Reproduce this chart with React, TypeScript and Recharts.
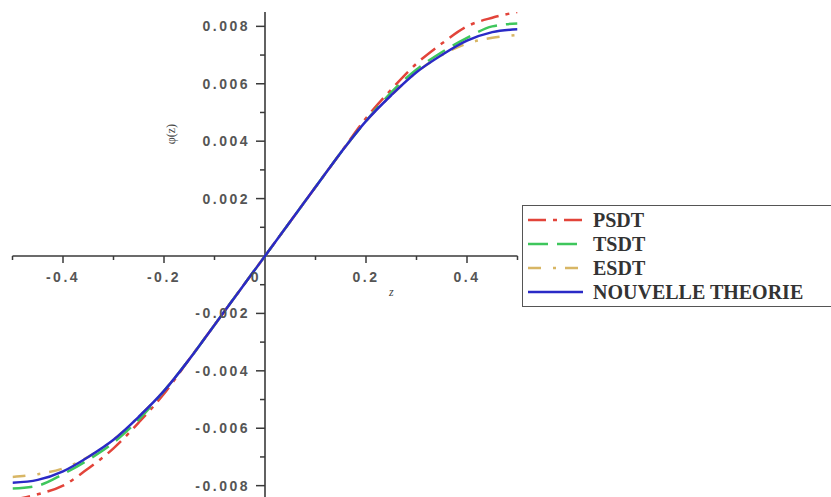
import React from 'react';
import { LineChart, Line, XAxis, YAxis, ReferenceLine, ReferenceDot, Legend } from 'recharts';

const zValues = [-0.5, -0.45, -0.4, -0.35, -0.3, -0.25, -0.2, -0.15, -0.1, -0.05, 0, 0.05, 0.1, 0.15, 0.2, 0.25, 0.3, 0.35, 0.4, 0.45, 0.5];
const psdt = [-0.0085, -0.0083, -0.008, -0.0074, -0.0067, -0.0058, -0.0048, -0.0036, -0.0024, -0.0012, 0, 0.0012, 0.0024, 0.0036, 0.0048, 0.0058, 0.0067, 0.0074, 0.008, 0.0083, 0.0085];
const tsdt = [-0.0081, -0.008, -0.0076, -0.0071, -0.0065, -0.0057, -0.0047, -0.0036, -0.0024, -0.0012, 0, 0.0012, 0.0024, 0.0036, 0.0047, 0.0057, 0.0065, 0.0071, 0.0076, 0.008, 0.0081];
const esdt = [-0.0077, -0.0076, -0.0074, -0.007, -0.0064, -0.0056, -0.0047, -0.0036, -0.0024, -0.0012, 0, 0.0012, 0.0024, 0.0036, 0.0047, 0.0056, 0.0064, 0.007, 0.0074, 0.0076, 0.0077];
const nouvelle = [-0.0079, -0.0078, -0.0075, -0.007, -0.0064, -0.0056, -0.0047, -0.0036, -0.0024, -0.0012, 0, 0.0012, 0.0024, 0.0036, 0.0047, 0.0056, 0.0064, 0.007, 0.0075, 0.0078, 0.0079];

const xMajorTicks = [-0.4, -0.2, 0.2, 0.4];
const xTickLabels = ['-0.4', '-0.2', '0.2', '0.4'];
const xMinorTicks = [-0.5, -0.3, -0.1, 0.1, 0.3, 0.5];
const yMajorTicks = [0.008, 0.006, 0.004, 0.002, -0.002, -0.004, -0.006, -0.008];
const yTickLabels = ['0.008', '0.006', '0.004', '0.002', '-0.002', '-0.004', '-0.006', '-0.008'];
const yMinorTicks = [0.007, 0.005, 0.003, 0.001, -0.001, -0.003, -0.005, -0.007];

const seriesKeys = ['psdt', 'tsdt', 'esdt', 'nouvelle'];
const seriesNames = ['PSDT', 'TSDT', 'ESDT', 'NOUVELLE THEORIE'];
const seriesColors = ['#e2443a', '#3ec65c', '#d8b665', '#2a2ac6'];
const seriesDashes = ['18 7 4 7', '20 9', '13 12 3 9', undefined];

const data = zValues.map((z, i) => ({ z, psdt: psdt[i], tsdt: tsdt[i], esdt: esdt[i], nouvelle: nouvelle[i] }));

const AXIS = '#3a3a3a';
const tickFont: React.CSSProperties = {
  fontFamily: '"Liberation Sans", Arial, sans-serif',
  fontSize: 14,
  fontWeight: 'bold',
  letterSpacing: 2.5,
  fill: '#555',
};

const LegendBox = () => (
  <div
    style={{
      border: '1.5px solid #555',
      background: '#fff',
      width: 400,
      padding: '2px 0 2px 4px',
      boxSizing: 'border-box',
    }}
  >
    {seriesNames.map((n, i) => (
      <div key={n} style={{ display: 'flex', alignItems: 'center', height: 24 }}>
        <svg width={60} height={24}>
          <line x1={1} y1={12} x2={56} y2={12} stroke={seriesColors[i]} strokeWidth={2.5} strokeDasharray={seriesDashes[i]} />
        </svg>
        <span
          style={{
            fontFamily: '"Liberation Serif", "Times New Roman", serif',
            fontWeight: 'bold',
            fontSize: 20,
            color: '#333',
            marginLeft: 6,
            whiteSpace: 'nowrap',
            lineHeight: '24px',
          }}
        >
          {n}
        </span>
      </div>
    ))}
  </div>
);

export default function App() {
  return (
    <div style={{ position: 'absolute', left: 0, top: 0, width: 831, height: 497, overflow: 'hidden', background: '#fff' }}>
      <LineChart width={831} height={505} data={data} margin={{ top: 12, right: 313.5, bottom: 5, left: 12.5 }}>
        <XAxis type="number" dataKey="z" domain={[-0.5, 0.5]} hide allowDataOverflow />
        <YAxis type="number" domain={[-0.0085, 0.0085]} hide allowDataOverflow />
        <ReferenceLine y={0} stroke={AXIS} strokeWidth={1.6} />
        <ReferenceLine x={0} stroke={AXIS} strokeWidth={1.6} />
        {xMajorTicks.map((t, i) => (
          <ReferenceDot
            key={'xm' + t}
            x={t}
            y={0}
            r={0}
            shape={(p: any) => (
              <g>
                <line x1={p.cx} y1={p.cy} x2={p.cx} y2={p.cy + 7} stroke={AXIS} strokeWidth={1.5} />
                <text x={p.cx} y={p.cy + 26} textAnchor="middle" style={tickFont}>
                  {xTickLabels[i]}
                </text>
              </g>
            )}
          />
        ))}
        {xMinorTicks.map((t) => (
          <ReferenceDot
            key={'xn' + t}
            x={t}
            y={0}
            r={0}
            shape={(p: any) => <line x1={p.cx} y1={p.cy} x2={p.cx} y2={p.cy + 4} stroke={AXIS} strokeWidth={1.5} />}
          />
        ))}
        {yMajorTicks.map((t, i) => (
          <ReferenceDot
            key={'ym' + t}
            x={0}
            y={t}
            r={0}
            shape={(p: any) => (
              <g>
                <line x1={p.cx - 9} y1={p.cy} x2={p.cx} y2={p.cy} stroke={AXIS} strokeWidth={1.5} />
                <text x={p.cx - 15} y={p.cy + 5} textAnchor="end" style={tickFont}>
                  {yTickLabels[i]}
                </text>
              </g>
            )}
          />
        ))}
        {yMinorTicks.map((t) => (
          <ReferenceDot
            key={'yn' + t}
            x={0}
            y={t}
            r={0}
            shape={(p: any) => <line x1={p.cx - 5} y1={p.cy} x2={p.cx} y2={p.cy} stroke={AXIS} strokeWidth={1.5} />}
          />
        ))}
        <ReferenceDot
          x={0}
          y={0}
          r={0}
          shape={(p: any) => (
            <text x={p.cx - 9} y={p.cy + 26} textAnchor="middle" style={tickFont}>
              0
            </text>
          )}
        />
        <ReferenceDot
          x={0.25}
          y={0}
          r={0}
          shape={(p: any) => (
            <text x={p.cx} y={p.cy + 40} textAnchor="middle" style={{ fontFamily: '"Liberation Serif", serif', fontSize: 12, fill: '#444', fontStyle: 'italic' }}>
              z
            </text>
          )}
        />
        <ReferenceDot
          x={0}
          y={0.00425}
          r={0}
          shape={(p: any) => (
            <text
              x={p.cx - 90}
              y={p.cy}
              textAnchor="middle"
              transform={`rotate(-90 ${p.cx - 90} ${p.cy})`}
              style={{ fontFamily: '"Liberation Serif", serif', fontSize: 12, fill: '#444' }}
            >
              φ(z)
            </text>
          )}
        />
        {seriesKeys.map((k, i) => (
          <Line
            key={k}
            type="monotone"
            dataKey={k}
            name={seriesNames[i]}
            stroke={seriesColors[i]}
            strokeWidth={2.5}
            strokeDasharray={seriesDashes[i]}
            dot={false}
            activeDot={false}
            isAnimationActive={false}
          />
        ))}
        <Legend
          layout="vertical"
          align="center"
          verticalAlign="middle"
          wrapperStyle={{ left: 522, top: 205, width: 400 }}
          content={() => <LegendBox />}
        />
      </LineChart>
    </div>
  );
}
